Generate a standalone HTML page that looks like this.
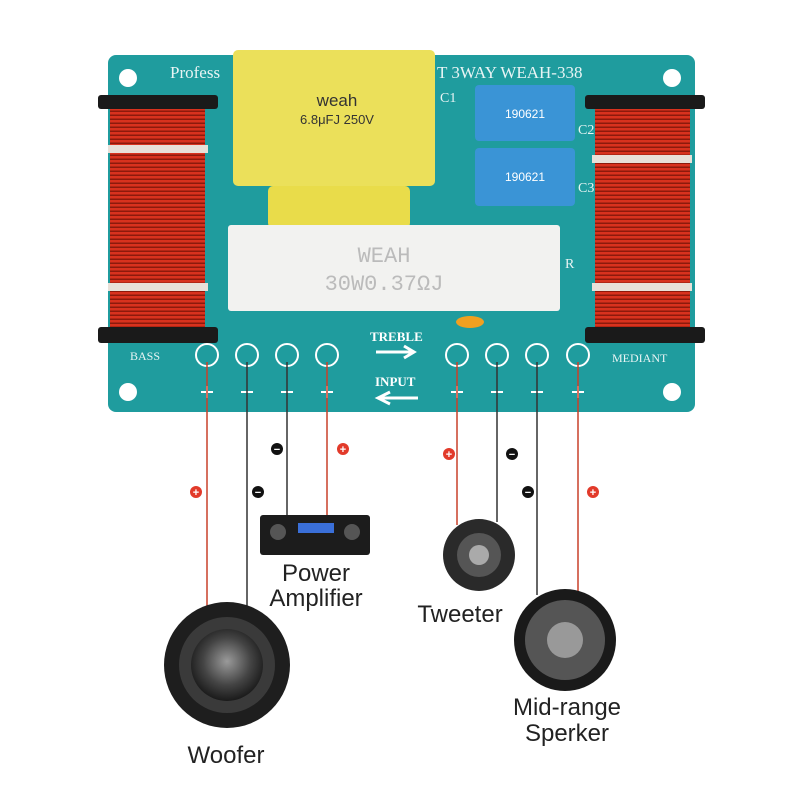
<!DOCTYPE html>
<html><head><meta charset="utf-8"><style>
html,body{margin:0;padding:0;background:#fff;}
svg{display:block}
</style></head><body>
<svg width="800" height="800" viewBox="0 0 800 800" xmlns="http://www.w3.org/2000/svg" font-family="Liberation Sans, sans-serif">
<defs>
<pattern id="coil" width="4" height="4" patternUnits="userSpaceOnUse">
<rect width="4" height="4" fill="#d8321e"/><rect y="2.5" width="4" height="1.5" fill="#8c1a0c"/>
</pattern>
<radialGradient id="spk" cx="50%" cy="45%" r="55%"><stop offset="0" stop-color="#9a9a9a"/><stop offset="0.6" stop-color="#444"/><stop offset="1" stop-color="#1a1a1a"/></radialGradient>
</defs>
<rect x="108" y="55" width="587" height="357" rx="8" fill="#1f9c9e"/>
<g font-family="Liberation Serif, serif" fill="#e8f4f4">
<text x="170" y="78" font-size="17">Profess</text>
<text x="437" y="78" font-size="17">T 3WAY WEAH-338</text>
<text x="440" y="102" font-size="14">C1</text>
<text x="578" y="134" font-size="14">C2</text>
<text x="578" y="192" font-size="14">C3</text>
<text x="565" y="268" font-size="14">R</text>
<text x="130" y="360" font-size="12">BASS</text>
<text x="612" y="362" font-size="12">MEDIANT</text>
<text x="370" y="341" font-size="13" font-weight="bold" fill="#fff">TREBLE</text>
<text x="375" y="386" font-size="13" font-weight="bold" fill="#fff">INPUT</text>
</g>
<circle cx="128" cy="78" r="9" fill="#fff"/><circle cx="672" cy="78" r="9" fill="#fff"/>
<circle cx="128" cy="392" r="9" fill="#fff"/><circle cx="672" cy="392" r="9" fill="#fff"/>
<rect x="110" y="105" width="95" height="228" fill="url(#coil)"/>
<rect x="108" y="145" width="100" height="8" fill="#e8e0d8"/>
<rect x="108" y="283" width="100" height="8" fill="#e8e0d8"/>
<rect x="98" y="95" width="120" height="14" rx="3" fill="#1a1a1a"/>
<rect x="98" y="327" width="120" height="16" rx="3" fill="#1a1a1a"/>
<rect x="595" y="105" width="95" height="228" fill="url(#coil)"/>
<rect x="592" y="155" width="100" height="8" fill="#e8e0d8"/>
<rect x="592" y="283" width="100" height="8" fill="#e8e0d8"/>
<rect x="585" y="95" width="120" height="14" rx="3" fill="#1a1a1a"/>
<rect x="585" y="327" width="120" height="16" rx="3" fill="#1a1a1a"/>
<rect x="233" y="50" width="202" height="136" rx="5" fill="#ebe05a"/>
<text x="337" y="106" text-anchor="middle" font-size="17" fill="#333">weah</text>
<text x="337" y="124" text-anchor="middle" font-size="13" fill="#333">6.8μFJ 250V</text>
<rect x="268" y="186" width="142" height="42" rx="5" fill="#e9dc4a"/>
<rect x="475" y="85" width="100" height="56" rx="4" fill="#3a94d6"/>
<text x="525" y="118" text-anchor="middle" font-size="12" fill="#fff">190621</text>
<rect x="475" y="148" width="100" height="58" rx="4" fill="#3a94d6"/>
<text x="525" y="181" text-anchor="middle" font-size="12" fill="#fff">190621</text>
<rect x="228" y="225" width="332" height="86" rx="3" fill="#f2f2f0"/>
<text x="384" y="262" text-anchor="middle" font-family="Liberation Mono, monospace" font-size="22" fill="#bbb">WEAH</text>
<text x="384" y="290" text-anchor="middle" font-family="Liberation Mono, monospace" font-size="22" fill="#bbb">30W0.37ΩJ</text>
<ellipse cx="470" cy="322" rx="14" ry="6" fill="#f0a020"/>
<path d="M376 352 H412 M404 346 L414 352 L404 358" stroke="#fff" stroke-width="3" fill="none"/>
<path d="M380 398 H418 M390 392 L378 398 L390 404" stroke="#fff" stroke-width="3" fill="none"/>
<g fill="none" stroke="#fff" stroke-width="2">
<circle cx="207" cy="355" r="11"/><circle cx="247" cy="355" r="11"/><circle cx="287" cy="355" r="11"/><circle cx="327" cy="355" r="11"/>
<circle cx="457" cy="355" r="11"/><circle cx="497" cy="355" r="11"/><circle cx="537" cy="355" r="11"/><circle cx="578" cy="355" r="11"/>
</g>
<g stroke="#fff" stroke-width="2">
<path d="M201 392h12M207 386v12"/><path d="M241 392h12"/><path d="M281 392h12"/><path d="M321 392h12M327 386v12"/>
<path d="M451 392h12M457 386v12"/><path d="M491 392h12"/><path d="M531 392h12"/><path d="M572 392h12M578 386v12"/>
</g>
<g stroke-width="1.5">
<line x1="207" y1="362" x2="207" y2="610" stroke="#c8402a"/>
<line x1="247" y1="362" x2="247" y2="700" stroke="#333"/>
<line x1="287" y1="362" x2="287" y2="515" stroke="#333"/>
<line x1="327" y1="362" x2="327" y2="515" stroke="#c8402a"/>
<line x1="457" y1="362" x2="457" y2="525" stroke="#c8402a"/>
<line x1="497" y1="362" x2="497" y2="522" stroke="#333"/>
<line x1="537" y1="362" x2="537" y2="595" stroke="#333"/>
<line x1="578" y1="362" x2="578" y2="592" stroke="#c8402a"/>
</g>
<g font-size="11" font-weight="bold" fill="#fff" text-anchor="middle">
<circle cx="196" cy="492" r="6" fill="#e23a2a"/><text x="196" y="496">+</text>
<circle cx="343" cy="449" r="6" fill="#e23a2a"/><text x="343" y="453">+</text>
<circle cx="449" cy="454" r="6" fill="#e23a2a"/><text x="449" y="458">+</text>
<circle cx="593" cy="492" r="6" fill="#e23a2a"/><text x="593" y="496">+</text>
<circle cx="258" cy="492" r="6" fill="#111"/><text x="258" y="496">−</text>
<circle cx="277" cy="449" r="6" fill="#111"/><text x="277" y="453">−</text>
<circle cx="512" cy="454" r="6" fill="#111"/><text x="512" y="458">−</text>
<circle cx="528" cy="492" r="6" fill="#111"/><text x="528" y="496">−</text>
</g>
<rect x="260" y="515" width="110" height="40" rx="3" fill="#1c1c1c"/>
<circle cx="278" cy="532" r="8" fill="#555"/><circle cx="352" cy="532" r="8" fill="#555"/>
<rect x="298" y="523" width="36" height="10" fill="#3a6fd8"/>
<text x="316" y="581" text-anchor="middle" font-size="24" fill="#222">Power</text>
<text x="316" y="606" text-anchor="middle" font-size="24" fill="#222">Amplifier</text>
<circle cx="479" cy="555" r="36" fill="#2a2a2a"/><circle cx="479" cy="555" r="22" fill="#555"/><circle cx="479" cy="555" r="10" fill="#aaa"/>
<text x="460" y="622" text-anchor="middle" font-size="24" fill="#222">Tweeter</text>
<circle cx="227" cy="665" r="63" fill="#1e1e1e"/><circle cx="227" cy="665" r="48" fill="#3a3a3a"/><circle cx="227" cy="665" r="36" fill="url(#spk)"/>
<text x="226" y="763" text-anchor="middle" font-size="24" fill="#222">Woofer</text>
<circle cx="565" cy="640" r="51" fill="#1a1a1a"/><circle cx="565" cy="640" r="40" fill="#555"/><circle cx="565" cy="640" r="18" fill="#999"/>
<text x="567" y="715" text-anchor="middle" font-size="24" fill="#222">Mid-range</text>
<text x="567" y="741" text-anchor="middle" font-size="24" fill="#222">Sperker</text>
</svg>
</body></html>
